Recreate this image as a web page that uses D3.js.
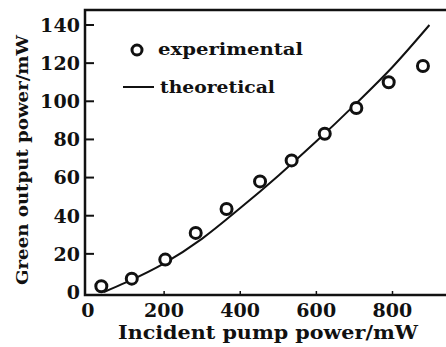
<!DOCTYPE html>
<html>
<head>
<meta charset="utf-8">
<script src="https://cdn.jsdelivr.net/npm/d3@7"></script>
<style>
  body { margin: 0; background: #fff; }
  svg { display: block; }
  text { font-family: "DejaVu Serif", serif; font-weight: bold; fill: #111; }
</style>
</head>
<body>
<svg width="446" height="347"></svg>
<script>
// experimental points (pump mW, green mW)
const expPump = [35, 115, 203, 283, 364, 452, 535, 622, 705, 790, 880];
const expGreen = [3, 7, 17, 31, 43.5, 58, 69, 83, 96.5, 110, 118.5];

// theoretical curve
const theoPump = [42, 100, 200, 300, 400, 500, 600, 700, 800, 897];
const theoGreen = [0, 5, 15, 28, 44, 61, 79, 98, 118, 140];

const yTicks = [0, 20, 40, 60, 80, 100, 120, 140];
const xTicks = [0, 200, 400, 600, 800];

const svg = d3.select("svg");

// 绘图区边框
const frame = { left: 85, right: 448, top: 10, bottom: 295 };

const x = d3.scaleLinear().domain([0, 800]).range([88, 392.5]);
const y = d3.scaleLinear().domain([0, 140]).range([292, 25]);

svg.append("path")
  .attr("d", `M${frame.left},${frame.top}H${frame.right}V${frame.bottom}H${frame.left}Z`)
  .attr("fill", "none")
  .attr("stroke", "#111")
  .attr("stroke-width", 2.5);

// y 轴刻度（向内）
svg.append("g")
  .selectAll("line")
  .data(yTicks.filter(d => d > 0))
  .join("line")
  .attr("x1", frame.left)
  .attr("x2", frame.left + 9)
  .attr("y1", d => y(d))
  .attr("y2", d => y(d))
  .attr("stroke", "#111")
  .attr("stroke-width", 2);

svg.append("g")
  .selectAll("text")
  .data(yTicks)
  .join("text")
  .attr("x", 80)
  .attr("y", d => y(d))
  .attr("dy", "0.36em")
  .attr("text-anchor", "end")
  .attr("textLength", d => String(d).length * 13.3)
  .attr("lengthAdjust", "spacing")
  .style("font-size", "19px")
  .text(d => d);

// x 轴刻度
svg.append("g")
  .selectAll("line")
  .data(xTicks.filter(d => d > 0))
  .join("line")
  .attr("x1", d => x(d))
  .attr("x2", d => x(d))
  .attr("y1", frame.bottom)
  .attr("y2", frame.bottom - 4)
  .attr("stroke", "#111")
  .attr("stroke-width", 1.5);

svg.append("g")
  .selectAll("text")
  .data(xTicks)
  .join("text")
  .attr("x", d => x(d) - String(d).length * 6.7)
  .attr("y", 310)
  .attr("dy", "0.36em")
  .attr("textLength", d => String(d).length * 13.3)
  .attr("lengthAdjust", "spacing")
  .style("font-size", "19px")
  .text(d => d);

// 坐标轴标题
svg.append("text")
  .attr("x", 268)
  .attr("y", 339)
  .attr("text-anchor", "middle")
  .attr("textLength", 300)
  .attr("lengthAdjust", "spacingAndGlyphs")
  .style("font-size", "18px")
  .text("Incident pump power/mW");

svg.append("text")
  .attr("transform", "translate(28,160) rotate(-90)")
  .attr("text-anchor", "middle")
  .attr("textLength", 250)
  .attr("lengthAdjust", "spacingAndGlyphs")
  .style("font-size", "17px")
  .text("Green output power/mW");

// 理论曲线
const line = d3.line()
  .x(d => x(d[0]))
  .y(d => y(d[1]))
  .curve(d3.curveMonotoneX);

svg.append("path")
  .datum(d3.zip(theoPump, theoGreen))
  .attr("d", line)
  .attr("fill", "none")
  .attr("stroke", "#111")
  .attr("stroke-width", 2);

// 实验点
svg.append("g")
  .selectAll("circle")
  .data(d3.zip(expPump, expGreen))
  .join("circle")
  .attr("cx", d => x(d[0]))
  .attr("cy", d => y(d[1]))
  .attr("r", 5.5)
  .attr("fill", "#fff")
  .attr("stroke", "#111")
  .attr("stroke-width", 3);

// 图例
svg.append("circle")
  .attr("cx", 137)
  .attr("cy", 50)
  .attr("r", 5)
  .attr("fill", "#fff")
  .attr("stroke", "#111")
  .attr("stroke-width", 3);
svg.append("text")
  .attr("x", 158)
  .attr("y", 50)
  .attr("dy", "0.3em")
  .attr("textLength", 145)
  .attr("lengthAdjust", "spacingAndGlyphs")
  .style("font-size", "17px")
  .text("experimental");

svg.append("line")
  .attr("x1", 123)
  .attr("x2", 154)
  .attr("y1", 87)
  .attr("y2", 87)
  .attr("stroke", "#111")
  .attr("stroke-width", 2);
svg.append("text")
  .attr("x", 160)
  .attr("y", 88)
  .attr("dy", "0.3em")
  .attr("textLength", 115)
  .attr("lengthAdjust", "spacingAndGlyphs")
  .style("font-size", "17px")
  .text("theoretical");
</script>
</body>
</html>
